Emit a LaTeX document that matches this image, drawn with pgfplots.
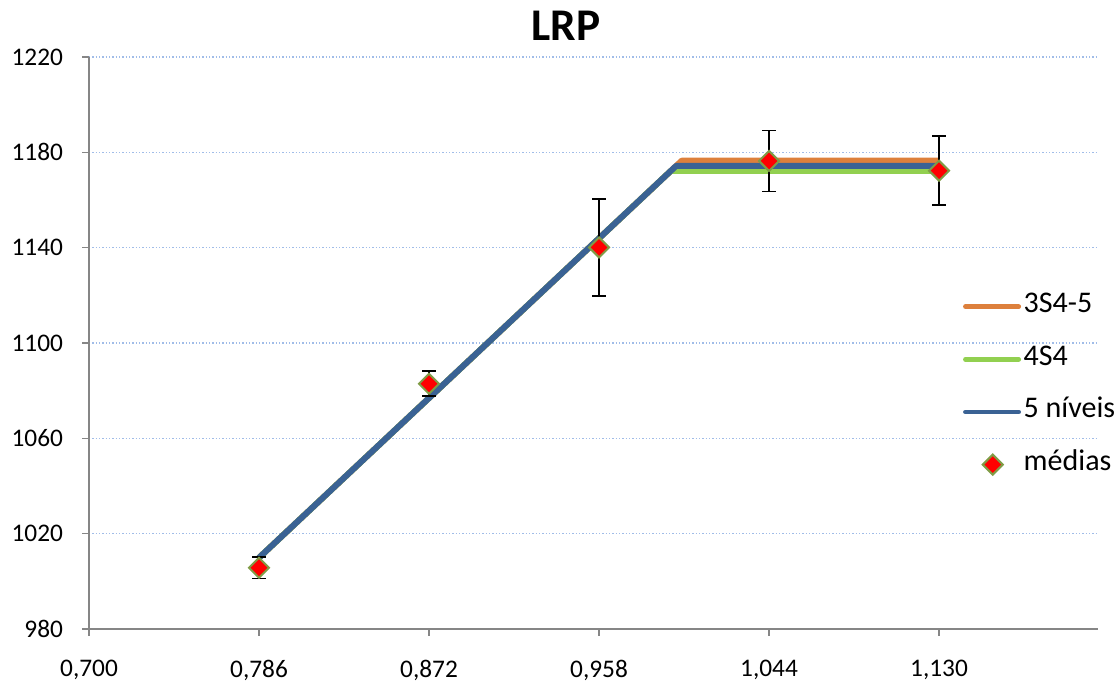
\documentclass[border=0pt]{standalone}
\usepackage{pgfplots}
\pgfplotsset{compat=1.18}
\usepackage{fontspec}
\setmainfont{Carlito}

\definecolor{orangeline}{RGB}{221,128,60}
\definecolor{greenline}{RGB}{146,208,80}
\definecolor{blueline}{RGB}{58,98,148}
\definecolor{markedge}{RGB}{128,156,70}
\definecolor{gridblue}{RGB}{160,188,232}
\definecolor{axisgray}{RGB}{134,134,134}

\begin{document}
\begin{tikzpicture}
\begin{axis}[
  name=ax,
  scale only axis,
  width=756.75pt, height=429pt,
  xmin=0.700, xmax=1.2104,
  ymin=980, ymax=1220,
  axis lines=left,
  axis line style={-, draw=axisgray, line width=1.5pt},
  xtick={0.700,0.786,0.872,0.958,1.044,1.130},
  ytick={980,1020,1060,1100,1140,1180,1220},
  tick align=outside,
  major tick length=5pt,
  tick style={draw=axisgray, line width=1.2pt},
  ymajorgrids,
  grid style={gridblue, line width=1pt, dash pattern=on 1pt off 1.5pt},
  /pgf/number format/assume math mode=true,
  xticklabel style={/pgf/number format/.cd, fixed, fixed zerofill, precision=3, use comma, /tikz/.cd, yshift=-15pt},
  yticklabel style={/pgf/number format/.cd, 1000 sep={}, /tikz/.cd, xshift=-11pt},
  tick label style={font=\fontsize{19}{22}\selectfont},
  title={LRP},
  title style={at={(rel axis cs:0.4727,1)}, anchor=base, yshift=6pt,
    font=\bfseries\fontsize{34}{40}\selectfont},
  legend style={
    at={(rel axis cs:0.866,0.5885)}, anchor=north west,
    draw=none, fill=none, inner sep=0pt,
    font=\fontsize{22.5}{26}\selectfont,
    row sep=18.5pt,
    nodes={text height=13pt, text depth=4pt},
  },
  legend cell align=left,
  clip=false,
]
% piecewise fits: linear rise then plateau
\addplot[orangeline, line width=4.5pt, line join=round,
  legend image code/.code={\draw[line width=3.5pt, line cap=round] (0pt,0pt) -- (40pt,0pt);}]
  coordinates {(0.786,1009.9) (0.99985,1176.5) (1.130,1176.5)};
\addlegendentry{3S4-5}
\addplot[greenline, line width=4.5pt, line join=round,
  legend image code/.code={\draw[line width=3.5pt, line cap=round] (0pt,0pt) -- (40pt,0pt);}]
  coordinates {(0.786,1009.9) (0.9943,1172.2) (1.130,1172.2)};
\addlegendentry{4S4}
\addplot[blueline, line width=4.5pt, line join=round,
  legend image code/.code={\draw[line width=3.5pt, line cap=round] (0pt,0pt) -- (40pt,0pt);}]
  coordinates {(0.786,1009.9) (0.9970,1174.3) (1.130,1174.3)};
\addlegendentry{5 níveis}
% measured means with error bars
\addplot[
  only marks,
  mark=square*,
  mark size=5.3pt,
  mark options={rotate=45, fill=red, draw=markedge, line width=1.5pt},
  legend image code/.code={\draw[fill=red, draw=markedge, line width=1.5pt, shift={(20.5pt,0pt)}, rotate=45] (-5.3pt,-5.3pt) rectangle (5.3pt,5.3pt);},
  error bars/.cd,
    y dir=both, y explicit,
    error bar style={black, line width=1.3pt},
    error mark options={rotate=90, mark size=5pt, black, line width=1.3pt},
] coordinates {
  (0.786,1005.7) +- (0,4.5)
  (0.872,1082.9) +- (0,5.2)
  (0.958,1140.1) +- (0,20.3)
  (1.044,1176.4) +- (0,12.8)
  (1.130,1172.3) +- (0,14.5)
};
\addlegendentry{médias}
\end{axis}
\path ([shift={(-66.75pt,-39pt)}]ax.south west) rectangle ([shift={(15.75pt,42.75pt)}]ax.north east);
\end{tikzpicture}
\end{document}
